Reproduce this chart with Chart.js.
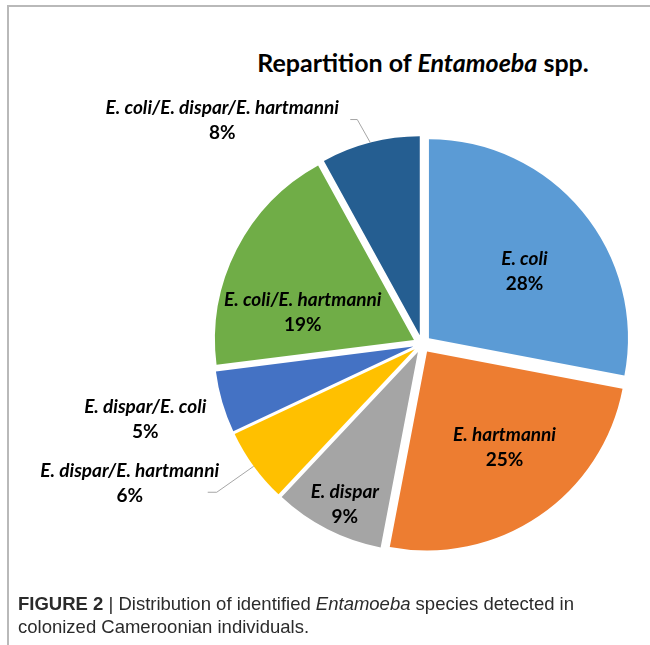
<!DOCTYPE html>
<html>
<head>
<meta charset="utf-8">
<script src="https://cdn.jsdelivr.net/npm/chart.js@4/dist/chart.umd.min.js"></script>
<style>
html, body { margin: 0; padding: 0; background: #fff; }
#page { position: relative; width: 650px; height: 645px; overflow: hidden; }
#frame { position: absolute; left: 7px; top: 5px; width: 660px; height: 660px;
  border-top: 2px solid #b9b9b9; border-left: 2px solid #b9b9b9; }
#title { position: absolute; left: 173px; width: 500px; top: 47px; text-align: center;
  font: bold 25px Lato, sans-serif; color: #000; }
#chart { position: absolute; left: 0; top: 0; }
#caption { position: absolute; left: 18px; top: 592px; width: 620px;
  font: 18.5px "Liberation Sans Narrow", "Liberation Sans", sans-serif; color: #2b2b2b; line-height: 23px; }
</style>
</head>
<body>
<div id="page">
  <div id="frame"></div>
  <div id="title">Repartition of <i>Entamoeba</i> spp.</div>
  <canvas id="chart" width="650" height="645"></canvas>
  <div id="caption"><b>FIGURE 2</b> | Distribution of identified <i>Entamoeba</i> species detected in colonized Cameroonian individuals.</div>
</div>
<script>
const species = [
  'E. coli',
  'E. hartmanni',
  'E. dispar',
  'E. dispar/E. hartmanni',
  'E. dispar/E. coli',
  'E. coli/E. hartmanni',
  'E. coli/E. dispar/E. hartmanni'
]

const shares = [28, 25, 9, 6, 5, 19, 8]

const sliceColors = [
  '#5b9bd5',
  '#ed7d31',
  '#a5a5a5',
  '#ffc000',
  '#4472c4',
  '#70ad47',
  '#255e91'
]

// pull every slice out from the centre along its middle angle
const explodePlugin = {
  id: 'explode',
  beforeDatasetDraw(chart, args, opts) {
    const ctx = chart.ctx
    args.meta.data.forEach(arc => {
      const mid = (arc.startAngle + arc.endAngle) / 2
      ctx.save()
      ctx.translate(Math.cos(mid) * opts.distance, Math.sin(mid) * opts.distance)
      arc.draw(ctx)
      ctx.restore()
    })
    return false
  }
}

const sliceLabelPlugin = {
  id: 'sliceLabels',
  afterDatasetsDraw(chart, args, opts) {
    const ctx = chart.ctx
    const meta = chart.getDatasetMeta(0)
    const values = chart.data.datasets[0].data
    const total = values.reduce((a, b) => a + b, 0)
    const explode = chart.options.plugins.explode.distance

    meta.data.forEach((arc, i) => {
      const mid = (arc.startAngle + arc.endAngle) / 2
      const name = chart.data.labels[i]
      const pct = Math.round(values[i] / total * 100) + '%'
      let cx, cy

      const inside = opts.inside[i]
      const callout = opts.callouts[i]

      if (inside) {
        // [radius fraction, angle shift in degrees]
        const a = mid + inside[1] * Math.PI / 180
        const r = arc.outerRadius * inside[0]
        cx = arc.x + Math.cos(mid) * explode + Math.cos(a) * r
        cy = arc.y + Math.sin(mid) * explode + Math.sin(a) * r
      } else if (callout) {
        const r = arc.outerRadius + explode
        const ax = arc.x + Math.cos(mid) * r
        const ay = arc.y + Math.sin(mid) * r
        cx = ax + callout.text[0]
        cy = ay + callout.text[1]
        if (callout.line) {
          ctx.save()
          ctx.strokeStyle = '#a6a6a6'
          ctx.lineWidth = 1
          ctx.beginPath()
          ctx.moveTo(ax, ay)
          callout.line.forEach(p => ctx.lineTo(ax + p[0], ay + p[1]))
          ctx.stroke()
          ctx.restore()
        }
      } else {
        return
      }

      ctx.save()
      ctx.fillStyle = '#000'
      ctx.textAlign = 'center'
      ctx.textBaseline = 'middle'
      ctx.font = 'italic bold 19px Lato, sans-serif'
      ctx.fillText(name, cx, cy - 12.5)
      ctx.font = 'bold 19px Lato, sans-serif'
      ctx.fillText(pct, cx, cy + 12.5)
      ctx.restore()
    })
  }
}

new Chart(document.getElementById('chart'), {
  type: 'pie',
  data: {
    labels: species,
    datasets: [{
      data: shares,
      backgroundColor: sliceColors,
      borderWidth: 0,
      radius: 199
    }]
  },
  options: {
    responsive: false,
    animation: false,
    layout: { padding: { left: 220, right: 26, top: 130, bottom: 87 } },
    plugins: {
      legend: { display: false },
      tooltip: { enabled: false },
      explode: { distance: 9 },
      sliceLabels: {
        inside: {
          0: [0.586, 4.6],
          1: [0.62, -4.7],
          2: [0.847, -1.3],
          5: [0.576, -13]
        },
        callouts: {
          3: { text: [-124, 17], line: [[-37, 26], [-46, 26]] },
          4: { text: [-77, 17] },
          6: { text: [-148, -22], line: [[-13, -23], [-20, -23]] }
        }
      }
    }
  },
  plugins: [explodePlugin, sliceLabelPlugin]
})
</script>
</body>
</html>
